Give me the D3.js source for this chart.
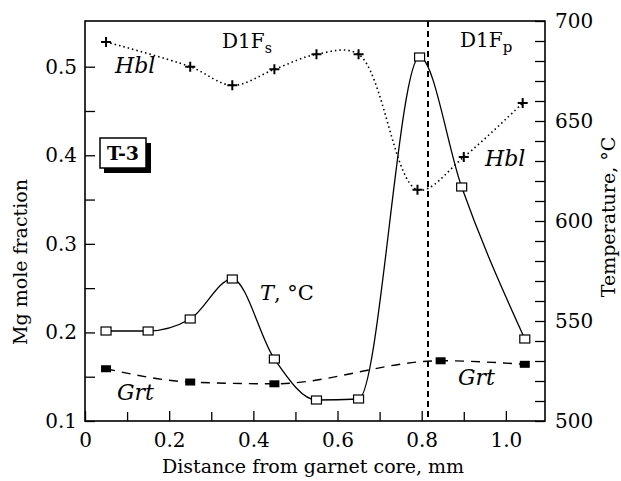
<!DOCTYPE html>
<html>
<head>
<meta charset="utf-8">
<script src="https://cdn.jsdelivr.net/npm/d3@7"></script>
<style>
  body { margin: 0; background: #fff; }
  text { font-family: "DejaVu Serif", serif; fill: #000; }
</style>
</head>
<body>
<div id="chart"></div>
<script>
// Hbl (Mg mole fraction, left axis)
var hblX = [0.05, 0.25, 0.35, 0.45, 0.55, 0.65, 0.79, 0.90, 1.04];
var hblY = [0.528, 0.500, 0.479, 0.497, 0.514, 0.514, 0.361, 0.398, 0.459];
// Grt (Mg mole fraction, left axis)
var grtX = [0.05, 0.25, 0.45, 0.845, 1.045];
var grtY = [0.159, 0.144, 0.142, 0.168, 0.164];
// temperature, right axis
var tempX = [0.05, 0.15, 0.25, 0.35, 0.45, 0.55, 0.65, 0.795, 0.895, 1.045];
var tempY = [545, 545, 551, 571, 531, 510.5, 511, 682, 617, 541];
// boundary between D1Fs and D1Fp
var zoneBoundary = 0.815;

var xTicks = [0, 0.2, 0.4, 0.6, 0.8, 1.0];
var xMinor = [0.1, 0.3, 0.5, 0.7, 0.9];
var yTicks = [0.1, 0.2, 0.3, 0.4, 0.5];
var yMinor = [0.15, 0.25, 0.35, 0.45];
var tTicks = [500, 550, 600, 650, 700];
var tMinor = d3.range(510, 700, 10).filter(function(v){ return v % 50 != 0; });

var width = 621, height = 481;
var pLeft = 85, pRight = 545, pTop = 21, pBottom = 421;

var svg = d3.select("#chart").append("svg")
  .attr("width", width).attr("height", height);

var x = d3.scaleLinear().domain([0, 1.093]).range([pLeft, pRight]);
var y = d3.scaleLinear().domain([0.1, 0.5516]).range([pBottom, pTop]);
var yT = d3.scaleLinear().domain([500, 700]).range([pBottom, pTop]);

// axes, ticks pointing inside
function styleAxis(g){
  g.select(".domain").remove();
  g.selectAll(".tick line").attr("stroke", "#000").attr("stroke-width", 1.3);
  g.selectAll(".tick text").style("font-size", "20px").style("font-family", "DejaVu Serif");
}

svg.append("g").attr("transform", `translate(0,${pBottom})`)
  .call(d3.axisBottom(x).tickValues(xTicks).tickSizeInner(-10).tickSizeOuter(0).tickPadding(12)
    .tickFormat(function(d){ return d == 0 ? "0" : d3.format(".1f")(d); }))
  .call(styleAxis);
svg.append("g").attr("transform", `translate(0,${pBottom})`)
  .call(d3.axisBottom(x).tickValues(xMinor).tickSizeInner(-9).tickSizeOuter(0).tickFormat(""))
  .call(styleAxis);

svg.append("g").attr("transform", `translate(${pLeft},0)`)
  .call(d3.axisLeft(y).tickValues(yTicks).tickSizeInner(-10).tickSizeOuter(0).tickPadding(8)
    .tickFormat(d3.format(".1f")))
  .call(styleAxis);
svg.append("g").attr("transform", `translate(${pLeft},0)`)
  .call(d3.axisLeft(y).tickValues(yMinor).tickSizeInner(-10).tickSizeOuter(0).tickFormat(""))
  .call(styleAxis);

svg.append("g").attr("transform", `translate(${pRight},0)`)
  .call(d3.axisRight(yT).tickValues(tTicks).tickSizeInner(-10).tickSizeOuter(0).tickPadding(10))
  .call(styleAxis);
svg.append("g").attr("transform", `translate(${pRight},0)`)
  .call(d3.axisRight(yT).tickValues(tMinor).tickSizeInner(-10).tickSizeOuter(0).tickFormat(""))
  .call(styleAxis);

// frame
svg.append("rect")
  .attr("x", pLeft).attr("y", pTop)
  .attr("width", pRight - pLeft).attr("height", pBottom - pTop)
  .attr("fill", "none").attr("stroke", "#000").attr("stroke-width", 1.6);

// zone boundary
svg.append("line")
  .attr("x1", x(zoneBoundary)).attr("x2", x(zoneBoundary))
  .attr("y1", pTop).attr("y2", pBottom)
  .attr("stroke", "#000").attr("stroke-width", 2).attr("stroke-dasharray", "6,4");

function series(xs, ys, ysc){
  return xs.map(function(v, i){ return [x(v), ysc(ys[i])]; });
}

var hbl = series(hblX, hblY, y);
var grt = series(grtX, grtY, y);
var temp = series(tempX, tempY, yT);

svg.append("path").attr("d", d3.line().curve(d3.curveCatmullRom.alpha(0.5))(hbl))
  .attr("fill", "none").attr("stroke", "#000").attr("stroke-width", 1.6)
  .attr("stroke-dasharray", "1.5,3");
svg.append("path").attr("d", d3.line().curve(d3.curveMonotoneX)(grt))
  .attr("fill", "none").attr("stroke", "#000").attr("stroke-width", 1.4)
  .attr("stroke-dasharray", "9,7");
svg.append("path").attr("d", d3.line().curve(d3.curveMonotoneX)(temp))
  .attr("fill", "none").attr("stroke", "#000").attr("stroke-width", 1.3);

// markers
svg.append("g").selectAll("path").data(hbl).join("path")
  .attr("d", function(p){ return `M${p[0]-5},${p[1]}h10M${p[0]},${p[1]-5}v10`; })
  .attr("stroke", "#000").attr("stroke-width", 2);

svg.append("g").selectAll("rect").data(grt).join("rect")
  .attr("x", function(p){ return p[0] - 5; }).attr("y", function(p){ return p[1] - 3.5; })
  .attr("width", 10).attr("height", 7).attr("fill", "#000");

svg.append("g").selectAll("rect").data(temp).join("rect")
  .attr("x", function(p){ return p[0] - 5; }).attr("y", function(p){ return p[1] - 4; })
  .attr("width", 10).attr("height", 8).attr("fill", "#fff")
  .attr("stroke", "#000").attr("stroke-width", 1.2);

// labels
function label(tx, ty, txt, size, italic){
  return svg.append("text").attr("x", tx).attr("y", ty)
    .style("font-size", size + "px").style("font-style", italic ? "italic" : "normal").text(txt);
}
var d1 = label(222, 48, "D1F", 20, false);
d1.append("tspan").attr("dy", 5).style("font-size", "14px").text("s");
var d2 = label(460, 47, "D1F", 20, false);
d2.append("tspan").attr("dy", 5).style("font-size", "15px").text("p");

label(115, 73, "Hbl", 22, true);
label(485, 166, "Hbl", 22, true);
label(117, 400, "Grt", 22, true);
label(458, 385, "Grt", 22, true);
var tl = label(260, 300, "T", 21, true);
tl.append("tspan").style("font-style", "normal").text(", °C");

// sample box
svg.append("rect").attr("x", 104).attr("y", 143).attr("width", 47).attr("height", 30).attr("fill", "#000");
svg.append("rect").attr("x", 100).attr("y", 138).attr("width", 46).attr("height", 30)
  .attr("fill", "#fff").attr("stroke", "#000").attr("stroke-width", 1.5);
svg.append("text").attr("x", 123).attr("y", 160).attr("text-anchor", "middle")
  .style("font-size", "19px").style("font-weight", "bold").text("T-3");

// axis titles
svg.append("text").attr("transform", "translate(27,262) rotate(-90)")
  .attr("text-anchor", "middle").style("font-size", "19px").text("Mg mole fraction");
svg.append("text").attr("transform", "translate(615,217) rotate(-90)")
  .attr("text-anchor", "middle").style("font-size", "19px").text("Temperature, °C");
svg.append("text").attr("x", 313).attr("y", 473)
  .attr("text-anchor", "middle").style("font-size", "19px").text("Distance from garnet core, mm");
</script>
</body>
</html>
